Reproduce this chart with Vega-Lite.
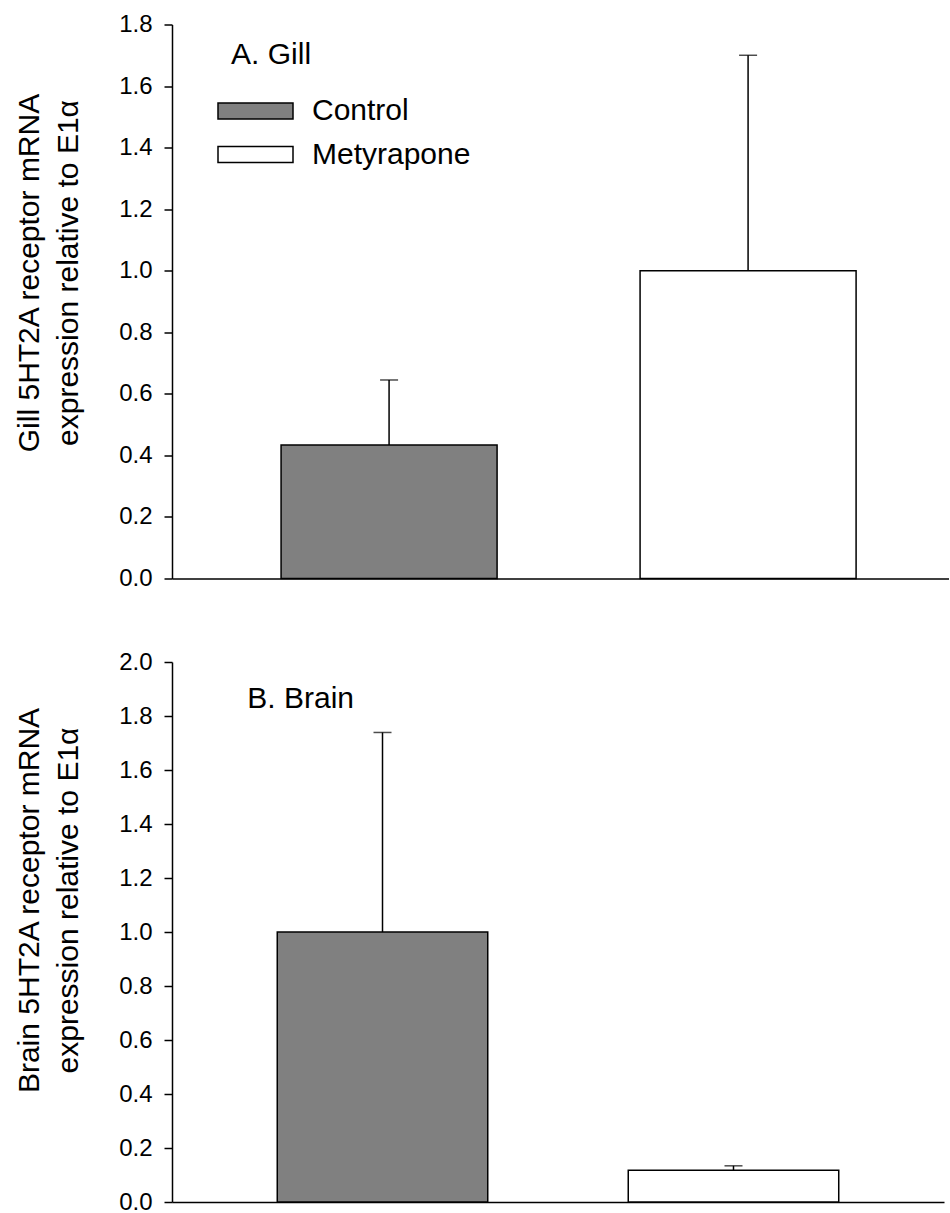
{
  "$schema": "https://vega.github.io/schema/vega-lite/v6.json",
  "background": "white",
  "padding": {"left": 13, "top": 12.5, "right": 0, "bottom": 0},
  "bounds": "flush",
  "spacing": 83.5,
  "datasets": {
    "gill": [
      {"group": "Control", "mean": 0.434, "upper": 0.645},
      {"group": "Metyrapone", "mean": 1.0, "upper": 1.70}
    ],
    "brain": [
      {"group": "Control", "mean": 1.0, "upper": 1.739},
      {"group": "Metyrapone", "mean": 0.118, "upper": 0.134}
    ],
    "gillLabel": [{"label": "A. Gill", "group": "Control", "y": 1.672}],
    "brainLabel": [{"label": "B. Brain", "group": "Control", "y": 1.83}]
  },
  "config": {
    "view": {"stroke": null},
    "font": "Liberation Sans",
    "axis": {
      "labelFont": "Liberation Sans",
      "titleFont": "Liberation Sans",
      "labelFontSize": 24,
      "labelColor": "black",
      "titleColor": "black",
      "domainColor": "black",
      "tickColor": "black",
      "domainWidth": 1.5,
      "tickWidth": 1.5,
      "grid": false
    },
    "legend": {"labelFont": "Liberation Sans"}
  },
  "resolve": {"legend": {"fill": "independent"}, "scale": {"x": "independent", "y": "independent"}},
  "vconcat": [
    {
      "width": 777,
      "height": 554,
      "layer": [
        {
          "data": {"name": "gill"},
          "mark": {"type": "rule", "color": "black", "strokeWidth": 1.5},
          "encoding": {
            "x": {"field": "group", "type": "nominal"},
            "y": {"field": "mean", "type": "quantitative"},
            "y2": {"field": "upper"}
          }
        },
        {
          "data": {"name": "gill"},
          "mark": {"type": "tick", "color": "black", "size": 18, "thickness": 1.5},
          "encoding": {
            "x": {"field": "group", "type": "nominal"},
            "y": {"field": "upper", "type": "quantitative"}
          }
        },
        {
          "data": {"name": "gill"},
          "mark": {"type": "bar", "stroke": "black", "strokeWidth": 1.5},
          "encoding": {
            "x": {
              "field": "group", "type": "nominal",
              "scale": {"paddingInner": 0.3983, "paddingOuter": 0.2813, "align": 0.54},
              "axis": {"title": null, "labels": false, "ticks": false}
            },
            "y": {
              "field": "mean", "type": "quantitative",
              "scale": {"domain": [0, 1.8], "nice": false, "zero": true},
              "axis": {
                "values": [0, 0.2, 0.4, 0.6, 0.8, 1.0, 1.2, 1.4, 1.6, 1.8],
                "format": ".1f",
                "tickSize": 8,
                "labelPadding": 12,
                "title": ["Gill 5HT2A receptor mRNA", "expression relative to E1α"],
                "titleFontSize": 30,
                "titleFontWeight": "normal",
                "titleLineHeight": 39,
                "titleAngle": -90,
                "titleAlign": "center",
                "titleBaseline": "alphabetic",
                "titleX": -134,
                "titleY": 248
              }
            },
            "fill": {
              "field": "group", "type": "nominal",
              "scale": {"domain": ["Control", "Metyrapone"], "range": ["#808080", "#ffffff"]},
              "legend": {
                "title": null,
                "orient": "none",
                "legendX": 64,
                "legendY": 67,
                "symbolType": "M-2,-0.4267L2,-0.4267L2,0.4267L-2,0.4267Z",
                "symbolSize": 1406.25,
                "symbolStrokeColor": "black",
                "symbolStrokeWidth": 1.5,
                "symbolOpacity": 1,
                "labelFontSize": 30,
                "labelColor": "black",
                "labelOffset": 37,
                "labelLimit": 400,
                "rowPadding": 8.5
              }
            }
          }
        },
        {
          "data": {"name": "gillLabel"},
          "mark": {"type": "text", "fontSize": 30, "align": "left", "baseline": "alphabetic", "dx": -50, "color": "black"},
          "encoding": {
            "x": {"field": "group", "type": "nominal", "bandPosition": 0},
            "y": {"field": "y", "type": "quantitative"},
            "text": {"field": "label"}
          }
        }
      ]
    },
    {
      "width": 772,
      "height": 540,
      "layer": [
        {
          "data": {"name": "brain"},
          "mark": {"type": "rule", "color": "black", "strokeWidth": 1.5},
          "encoding": {
            "x": {"field": "group", "type": "nominal"},
            "y": {"field": "mean", "type": "quantitative"},
            "y2": {"field": "upper"}
          }
        },
        {
          "data": {"name": "brain"},
          "mark": {"type": "tick", "color": "black", "size": 18, "thickness": 1.5},
          "encoding": {
            "x": {"field": "group", "type": "nominal"},
            "y": {"field": "upper", "type": "quantitative"}
          }
        },
        {
          "data": {"name": "brain"},
          "mark": {"type": "bar", "stroke": "black", "strokeWidth": 1.5},
          "encoding": {
            "x": {
              "field": "group", "type": "nominal",
              "scale": {"paddingInner": 0.4003, "paddingOuter": 0.2999, "align": 0.5},
              "axis": {"title": null, "labels": false, "ticks": false}
            },
            "y": {
              "field": "mean", "type": "quantitative",
              "scale": {"domain": [0, 2.0], "nice": false, "zero": true},
              "axis": {
                "values": [0, 0.2, 0.4, 0.6, 0.8, 1.0, 1.2, 1.4, 1.6, 1.8, 2.0],
                "format": ".1f",
                "tickSize": 8,
                "labelPadding": 12,
                "title": ["Brain 5HT2A receptor mRNA", "expression relative to E1α"],
                "titleFontSize": 30,
                "titleFontWeight": "normal",
                "titleLineHeight": 39,
                "titleAngle": -90,
                "titleAlign": "center",
                "titleBaseline": "alphabetic",
                "titleX": -134,
                "titleY": 238
              }
            },
            "fill": {
              "field": "group", "type": "nominal",
              "scale": {"domain": ["Control", "Metyrapone"], "range": ["#808080", "#ffffff"]},
              "legend": null
            }
          }
        },
        {
          "data": {"name": "brainLabel"},
          "mark": {"type": "text", "fontSize": 30, "align": "left", "baseline": "alphabetic", "dx": -30, "color": "black"},
          "encoding": {
            "x": {"field": "group", "type": "nominal", "bandPosition": 0},
            "y": {"field": "y", "type": "quantitative"},
            "text": {"field": "label"}
          }
        }
      ]
    }
  ]
}
